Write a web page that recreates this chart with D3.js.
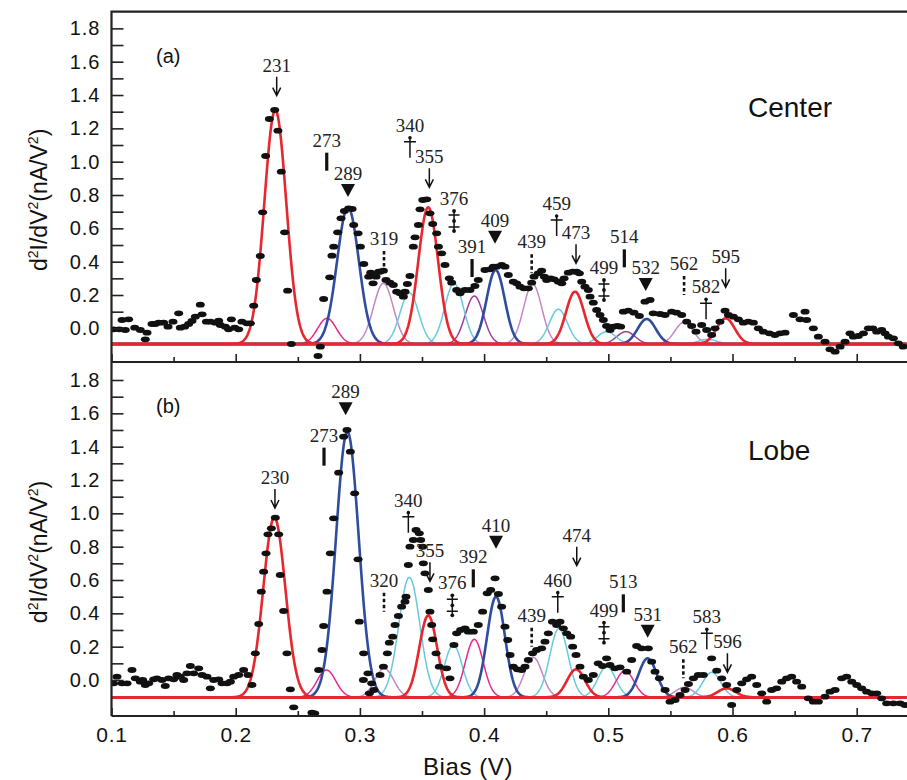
<!DOCTYPE html>
<html>
<head>
<meta charset="utf-8">
<script src="https://cdn.jsdelivr.net/npm/d3@7"></script>
<style>
body { margin: 0; background: #fff; }
</style>
</head>
<body>
<div id="chart-area"></div>
<script>
var svgWidth = 907
var svgHeight = 780

// measured points [bias (V), d2I/dV2 (nA/V^2)]
var centerDots = [
	[0.1017,-0.006],[0.1063,-0.006],[0.1085,0.05],[0.1111,-0.01],[0.1138,0.054],[0.1187,0.004],[0.1232,-0.01],[0.1272,-0.066],
	[0.1286,-0.026],[0.1326,0.026],[0.1353,0.026],[0.138,0.034],[0.142,0.034],[0.1455,0.01],[0.1495,0.04],[0.1541,0.09],
	[0.1554,0.004],[0.1589,0.01],[0.1621,0.026],[0.1648,0.044],[0.1675,0.07],[0.1715,0.142],[0.1729,0.084],[0.1764,0.04],
	[0.1796,0.04],[0.1836,0.034],[0.1863,0.046],[0.1876,0.02],[0.1917,0.01],[0.1943,-0.006],[0.1965,0.054],[0.1992,0.004],
	[0.2024,-0.006],[0.205,0.04],[0.209,0.03],[0.2118,0.03],
	[0.2145,0.136],[0.2166,0.29],[0.2198,0.434],[0.2217,0.696],[0.2241,1.034],[0.2271,1.256],[0.2314,1.31],[0.234,1.186],
	[0.2367,0.94],[0.2394,0.576],[0.2418,0.226],[0.2448,-0.094],[0.2663,-0.166],[0.2681,-0.11],
	[0.2708,0.176],[0.2757,0.306],[0.2775,0.436],[0.2789,0.49],[0.2821,0.576],[0.2848,0.66],[0.2875,0.704],[0.2909,0.72],
	[0.2937,0.716],[0.295,0.62],[0.2985,0.57],[0.3004,0.49],[0.3031,0.386],[0.3071,0.31],[0.3087,0.334],[0.3106,0.27],
	[0.313,0.31],[0.3151,0.34],[0.3162,0.34],[0.3189,0.346],[0.321,0.29],[0.3242,0.274],[0.3269,0.26],[0.3296,0.22],
	[0.3323,0.21],[0.335,0.19],[0.3363,0.22],[0.3382,0.266],[0.3403,0.314],[0.343,0.49],[0.3444,0.546],[0.3471,0.62],
	[0.3484,0.714],[0.3506,0.77],[0.3538,0.774],[0.3564,0.69],[0.3586,0.626],[0.3618,0.57],[0.3632,0.49],[0.3658,0.45],
	[0.3685,0.38],[0.372,0.3],[0.3739,0.274],[0.3779,0.23],[0.3806,0.21],[0.3846,0.23],[0.3886,0.23],[0.3926,0.254],
	[0.3953,0.29],[0.4007,0.35],[0.4047,0.354],[0.4074,0.37],[0.4101,0.37],[0.4141,0.38],[0.4168,0.37],[0.4195,0.32],
	[0.4235,0.28],[0.4262,0.27],[0.4289,0.25],[0.4321,0.24],[0.4356,0.24],[0.4383,0.274],[0.4402,0.31],[0.4436,0.33],
	[0.4463,0.346],[0.4485,0.31],[0.4504,0.29],[0.4536,0.3],[0.4563,0.294],[0.4598,0.28],[0.4625,0.27],[0.4644,0.3],
	[0.4678,0.334],[0.4713,0.34],[0.4745,0.34],[0.4767,0.33],[0.4786,0.28],[0.4812,0.25],[0.4839,0.23],[0.4853,0.19],
	[0.4879,0.154],[0.4906,0.11],[0.4933,0.08],[0.496,0.05],[0.4986,0.014],[0.5014,-0.01],[0.504,0.01],[0.5073,0.014],
	[0.5099,0.01],[0.5121,0.1],[0.5161,0.106],[0.5207,0.094],[0.525,0.074],[0.5295,0.16],[0.5336,0.17],[0.5362,0.09],
	[0.5416,0.086],[0.5456,0.08],[0.551,0.1],[0.555,0.094],[0.5591,0.08],[0.5631,0.04],[0.5671,0.014],[0.5706,-0.02],
	[0.5752,0.02],[0.5792,-0.01],[0.5832,-0.04],[0.5859,0],[0.5899,0.04],[0.594,0.106],[0.5967,0.08],[0.6007,0.07],
	[0.6047,0.054],[0.6087,0.034],[0.6127,0.04],[0.6168,0.034],[0.6208,0],[0.6248,-0.02],[0.6297,-0.03],[0.6342,-0.04],
	[0.6382,-0.03],[0.6423,-0.026],[0.649,0.08],[0.6544,0.054],[0.6584,0.1],[0.6597,0.05],[0.6651,0],[0.6691,-0.05],
	[0.6745,-0.08],[0.6785,-0.126],[0.6826,-0.14],[0.6866,-0.11],[0.6906,-0.08],[0.6946,-0.03],[0.6973,-0.05],[0.7013,-0.046],
	[0.7054,-0.03],[0.7094,0],[0.7129,0],[0.7161,-0.02],[0.7201,-0.01],[0.7228,-0.03],[0.7255,-0.05],[0.7295,-0.06],
	[0.7335,-0.09],[0.7375,-0.11]
]

var lobeDots = [
	[0.1017,-0.02],[0.1044,0.02],[0.1085,-0.02],[0.1125,-0.02],[0.1165,0.06],[0.1192,0.01],[0.1232,-0.01],[0.1251,0],
	[0.1272,-0.03],[0.1299,-0.02],[0.134,0.004],[0.1366,0.01],[0.1407,0],[0.1433,-0.036],[0.146,0.01],[0.15,0.004],
	[0.1527,0.03],[0.1554,0.02],[0.1581,0],[0.1608,0.04],[0.1635,0.084],[0.1662,0.04],[0.1702,0.07],[0.1729,0.03],
	[0.1769,0.02],[0.1796,-0.05],[0.1823,0],[0.1863,0.004],[0.189,-0.02],[0.193,-0.02],[0.1957,-0.01],[0.1984,0.02],
	[0.2024,0.03],[0.2064,0.06],[0.2099,0.03],[0.2131,-0.03],
	[0.2158,0.16],[0.2185,0.336],[0.2206,0.53],[0.2225,0.65],[0.2244,0.76],[0.226,0.874],[0.2287,0.91],[0.2319,0.974],
	[0.2346,0.874],[0.2359,0.63],[0.2386,0.414],[0.2413,0.16],[0.244,-0.056],[0.2467,-0.164],[0.2614,-0.196],[0.2636,-0.2],
	[0.2668,0.06],[0.2695,0.18],[0.2708,0.324],[0.2735,0.53],[0.2762,0.76],[0.2789,0.97],[0.2829,1.244],[0.2869,1.46],
	[0.2896,1.5],[0.2923,1.37],[0.2958,1.12],[0.2985,0.724],[0.2995,0.35],[0.3028,0],[0.303,0.16],[0.3065,0.04],
	[0.3076,-0.08],[0.3095,-0.02],[0.3113,-0.06],[0.3162,0.03],[0.3189,0.08],[0.3221,0.16],[0.3237,0.224],[0.3264,0.26],
	[0.3283,0.33],[0.331,0.384],[0.3336,0.44],[0.3363,0.47],[0.3371,0.5],[0.339,0.69],[0.3403,0.8],[0.343,0.84],
	[0.3452,0.9],[0.3478,0.88],[0.3489,0.84],[0.3505,0.8],[0.3511,0.7],[0.3524,0.64],[0.3551,0.54],[0.3564,0.41],
	[0.3578,0.33],[0.3586,0.244],[0.3613,0.16],[0.3639,0.08],[0.3698,0.07],[0.3725,0.01],[0.3757,0.21],[0.3779,0.28],
	[0.3811,0.3],[0.3846,0.31],[0.3873,0.29],[0.3913,0.29],[0.3953,0.33],[0.3988,0.41],[0.4025,0.52],[0.4053,0.54],
	[0.4088,0.61],[0.4115,0.516],[0.4141,0.44],[0.4168,0.32],[0.419,0.24],[0.4209,0.15],[0.4235,0.08],[0.4268,0.064],
	[0.4302,0.06],[0.4329,0.08],[0.4356,0.12],[0.439,0.16],[0.4423,0.18],[0.4463,0.19],[0.449,0.23],[0.4517,0.28],
	[0.455,0.35],[0.4584,0.33],[0.4611,0.35],[0.4638,0.31],[0.4665,0.28],[0.4697,0.26],[0.4713,0.2],[0.474,0.15],
	[0.4772,0.08],[0.4799,0.02],[0.4839,0],[0.4879,0.03],[0.4919,0.1],[0.4954,0.084],[0.4986,0.13],[0.5013,0.09],
	[0.5054,0.07],[0.5094,0.076],[0.5148,0.05],[0.5188,0.12],[0.5228,0.204],[0.5268,0.19],[0.5322,0.19],[0.5349,0.11],
	[0.5376,0.05],[0.5411,0.01],[0.5457,-0.06],[0.5497,-0.13],[0.5537,-0.12],[0.5577,-0.09],[0.5618,-0.06],[0.5645,-0.024],
	[0.5685,0.01],[0.5725,0.03],[0.5765,0.03],[0.5832,0.13],[0.5873,0.056],[0.5913,0.01],[0.5953,-0.03],[0.5993,-0.15],
	[0.6034,-0.06],[0.6074,-0.02],[0.6114,0.004],[0.6154,0.02],[0.6195,-0.03],[0.6235,-0.08],[0.6275,-0.13],[0.6315,-0.06],
	[0.6355,-0.05],[0.6396,-0.01],[0.6436,0.01],[0.6476,0.02],[0.6516,-0.01],[0.6557,-0.04],[0.661,-0.11],[0.6651,-0.13],
	[0.6691,-0.13],[0.6745,-0.1],[0.6785,-0.07],[0.6826,-0.06],[0.6879,0.01],[0.6919,0.02],[0.696,-0.01],[0.7,-0.03],
	[0.704,-0.05],[0.708,-0.07],[0.7121,-0.08],[0.7161,-0.08],[0.7201,-0.11],[0.7241,-0.14],[0.7295,-0.14],[0.7349,-0.14],
	[0.7389,-0.15]
]

// gaussian fit components
var centerBase = -0.094
var centerPos = [0.2319,0.2735,0.2904,0.3189,0.3398,0.355,0.3758,0.3921,0.4093,0.4391,0.4598,0.4732,0.4987,0.5142,0.5309,0.561,0.58,0.5945]
var centerPeak = [1.31,0.06,0.726,0.27,0.214,0.726,0.27,0.194,0.35,0.266,0.114,0.22,-0.02,-0.02,0.056,0.037,-0.066,0.06]
var centerSigma = [0.0088,0.0075,0.0088,0.008,0.0075,0.008,0.0075,0.0073,0.0073,0.0073,0.0073,0.0073,0.0073,0.0073,0.0073,0.0073,0.0073,0.0073]
var centerColor = ["red","pink","blue","orchid","cyan","red","cyan","purple","blue","orchid","cyan","red","cyan","purple","blue","orchid","cyan","red"]

var lobeBase = -0.104
var lobePos = [0.2311,0.273,0.2899,0.3196,0.3398,0.355,0.3752,0.3921,0.4096,0.4396,0.4603,0.474,0.4987,0.5134,0.5317,0.5612,0.5833,0.5953]
var lobePeak = [0.974,0.06,1.49,0.07,0.616,0.387,0.21,0.244,0.5,0.136,0.31,0.064,0.08,0.056,0.13,-0.044,0.046,-0.05]
var lobeSigma = [0.0089,0.0075,0.0091,0.0075,0.0085,0.0072,0.0072,0.0072,0.0072,0.0072,0.0074,0.0072,0.0072,0.0072,0.0072,0.0072,0.0072,0.0072]
var lobeColor = ["red","pink","blue","orchid","cyan","red","cyan","pink","blue","orchid","cyan","red","cyan","pink","blue","orchid","cyan","red"]

// peak labels: text, symbol, x of label (V), label baseline (nA/V^2)
var markTypes = ["arrow","bar","tri","dash","dagger","arrow","ddagger","bar","tri","dash","dagger","arrow","ddagger","bar","tri","dash","dagger","arrow"]
var centerLabels = ["231","273","289","319","340","355","376","391","409","439","459","473","499","514","532","562","582","595"]
var centerLabelX = [0.233,0.2733,0.2904,0.3194,0.3403,0.3559,0.3758,0.3903,0.4088,0.4383,0.4584,0.474,0.4965,0.5129,0.5301,0.561,0.5787,0.5945]
var centerLabelY = [1.54,1.09,0.89,0.5,1.18,0.99,0.74,0.452,0.61,0.48,0.71,0.534,0.326,0.51,0.326,0.35,0.21,0.39]
var lobeLabels = ["230","273","289","320","340","355","376","392","410","439","460","474","499","513","531","562","583","596"]
var lobeLabelX = [0.2316,0.2711,0.2885,0.3194,0.339,0.3564,0.3744,0.3913,0.4096,0.4383,0.4593,0.4746,0.4965,0.5121,0.5317,0.5604,0.5793,0.5959]
var lobeLabelY = [1.176,1.43,1.69,0.56,1.04,0.736,0.544,0.7,0.89,0.35,0.56,0.83,0.38,0.55,0.356,0.16,0.34,0.19]

var xTicks = [0.1,0.2,0.3,0.4,0.5,0.6,0.7]
var xMinor = [0.15,0.25,0.35,0.45,0.55,0.65]
var yTicks = [0,0.2,0.4,0.6,0.8,1.0,1.2,1.4,1.6,1.8]
var yMinor = [0.1,0.3,0.5,0.7,0.9,1.1,1.3,1.5,1.7]

var sans = "'Liberation Sans', Arial, Helvetica, sans-serif"
var serif = "'Liberation Serif', 'Times New Roman', serif"

var colr = d3.scaleOrdinal()
			.domain(["red","blue","pink","orchid","cyan","purple"])
			.range(["#e8262d","#2e4d9d","#e8288b","#c486c5","#67c9dd","#9d3f98"])

var svg = d3.select("#chart-area")
			.append("svg")
			.attr("width", svgWidth)
			.attr("height", svgHeight)

var x = d3.scaleLinear()
			.domain([0.1, 0.74])
			.range([111.5, 906.4])

var panels = [
	{ y: d3.scaleLinear().domain([-0.202, 1.9]).range([362, 11.7]), top: 11.7, bottom: 362,
	  dots: centerDots, base: centerBase, pos: centerPos, peak: centerPeak, sigma: centerSigma, color: centerColor,
	  labels: centerLabels, lx: centerLabelX, ly: centerLabelY, tag: "(a)", name: "Center", nameY: 117, tagY: 63, clip: "clipA" },
	{ y: d3.scaleLinear().domain([-0.216, 1.908]).range([716, 362]), top: 362, bottom: 716,
	  dots: lobeDots, base: lobeBase, pos: lobePos, peak: lobePeak, sigma: lobeSigma, color: lobeColor,
	  labels: lobeLabels, lx: lobeLabelX, ly: lobeLabelY, tag: "(b)", name: "Lobe", nameY: 460, tagY: 413, clip: "clipB" }
]

var grid = d3.range(0.1, 0.7401, 0.0005)

function drawMark(g, type, px, py) {
	var ink = "#111"
	if (type == "arrow") {
		var a = py + 5
		g.append("path")
			.attr("d", "M" + px + "," + a + "V" + (a + 19) + "M" + (px - 4) + "," + (a + 11) + "L" + px + "," + (a + 19) + "L" + (px + 4) + "," + (a + 11))
			.attr("fill", "none").attr("stroke", ink).attr("stroke-width", 1.5)
	} else if (type == "tri") {
		var t = py + 4
		g.append("path")
			.attr("d", "M" + (px - 7) + "," + t + "H" + (px + 7) + "L" + px + "," + (t + 13) + "Z")
			.attr("fill", ink)
	} else if (type == "bar") {
		g.append("rect").attr("x", px - 1.6).attr("y", py + 6).attr("width", 3.2).attr("height", 18).attr("fill", ink)
	} else if (type == "dash") {
		g.append("line").attr("x1", px).attr("x2", px).attr("y1", py + 6).attr("y2", py + 25)
			.attr("stroke", ink).attr("stroke-width", 2.6).attr("stroke-dasharray", "3.5,2.5")
	} else if (type == "dagger") {
		var d0 = py + 5
		g.append("path")
			.attr("d", "M" + px + "," + d0 + "V" + (d0 + 21) + "M" + (px - 6) + "," + (d0 + 5) + "H" + (px + 6))
			.attr("stroke", ink).attr("stroke-width", 1.5)
		g.append("circle").attr("cx", px).attr("cy", d0 + 1).attr("r", 1.8).attr("fill", ink)
	} else if (type == "ddagger") {
		var e = py + 5
		g.append("path")
			.attr("d", "M" + px + "," + e + "V" + (e + 22) + "M" + (px - 5.5) + "," + (e + 5) + "H" + (px + 5.5) + "M" + (px - 5.5) + "," + (e + 17) + "H" + (px + 5.5))
			.attr("stroke", ink).attr("stroke-width", 1.5)
		g.selectAll(null).data([1, 11, 21]).enter().append("circle")
			.attr("cx", px).attr("cy", function(d){ return e + d }).attr("r", 1.9).attr("fill", ink)
	}
}

panels.forEach(function(p, pi){
	var y = p.y
	var g = svg.append("g")

	svg.append("clipPath").attr("id", p.clip)
		.append("rect").attr("x", 111.5).attr("y", p.top).attr("width", svgWidth - 111.5).attr("height", p.bottom - p.top)

	// fitted components, thin ones first so red and blue sit on top
	var comps = p.pos.map(function(c, i){
		return { c: c, h: p.peak[i], s: p.sigma[i], col: p.color[i] }
	})
	var rank = { orchid: 0, purple: 0, pink: 1, cyan: 1, blue: 2, red: 3 }
	comps.sort(function(a, b){ return rank[a.col] - rank[b.col] })

	var line = d3.line()
		.x(function(d){ return x(d[0]) })
		.y(function(d){ return y(d[1]) })

	g.append("g").attr("clip-path", "url(#" + p.clip + ")")
		.selectAll("path").data(comps).enter()
		.append("path")
		.attr("d", function(k){
			return line(grid.map(function(v){
				return [v, p.base + (k.h - p.base) * Math.exp(-Math.pow(v - k.c, 2) / (2 * k.s * k.s))]
			}))
		})
		.attr("fill", "none")
		.attr("stroke", function(k){ return colr(k.col) })
		.attr("stroke-width", function(k){ return (k.col == "red" || k.col == "blue") ? 2.6 : 1.5 })

	// measured points
	g.append("g").attr("clip-path", "url(#" + p.clip + ")")
		.selectAll("ellipse").data(p.dots).enter()
		.append("ellipse")
		.attr("cx", function(d){ return x(d[0]) })
		.attr("cy", function(d){ return y(d[1]) })
		.attr("rx", 4.5)
		.attr("ry", 2.9)
		.attr("fill", "#111")

	// y ticks
	g.append("g").attr("transform", "translate(111.5,0)")
		.call(d3.axisLeft(y).tickValues(yTicks.concat(yMinor)).tickSize(-12).tickFormat(""))
		.call(function(a){ a.select(".domain").remove() })
		.selectAll("line").attr("stroke", "#222").attr("stroke-width", 1.6)

	g.append("g").attr("transform", "translate(111.5,0)")
		.call(d3.axisLeft(y).tickValues(yTicks).tickSize(0).tickPadding(11).tickFormat(d3.format(".1f")))
		.call(function(a){ a.select(".domain").remove() })
		.selectAll("text").attr("font-family", sans).attr("font-size", 20).attr("letter-spacing", 1).attr("fill", "#111")

	// x ticks on the bottom edge, pointing in
	g.append("g").attr("transform", "translate(0," + p.bottom + ")")
		.call(d3.axisBottom(x).tickValues(xTicks).tickSize(-8).tickFormat(""))
		.call(function(a){ a.select(".domain").remove() })
		.selectAll("line").attr("stroke", "#222").attr("stroke-width", 1.6)
	g.append("g").attr("transform", "translate(0," + p.bottom + ")")
		.call(d3.axisBottom(x).tickValues(xMinor).tickSize(-5).tickFormat(""))
		.call(function(a){ a.select(".domain").remove() })
		.selectAll("line").attr("stroke", "#222").attr("stroke-width", 1.6)

	if (pi == 1) {
		g.append("g").attr("transform", "translate(0," + p.bottom + ")")
			.call(d3.axisBottom(x).tickValues(xTicks).tickSize(0).tickPadding(11).tickFormat(d3.format(".1f")))
			.call(function(a){ a.select(".domain").remove() })
			.selectAll("text").attr("font-family", sans).attr("font-size", 21).attr("letter-spacing", 0.8).attr("fill", "#111")
	}

	// frame
	var frame = "M111.5," + p.bottom + "V" + p.top
	if (pi == 0) frame += "H" + svgWidth
	frame += "M111.5," + p.bottom + "H" + svgWidth
	g.append("path").attr("d", frame).attr("fill", "none").attr("stroke", "#222").attr("stroke-width", 2.2)

	// y title
	var mid = (p.top + p.bottom) / 2 + 13
	var yt = g.append("text")
		.attr("transform", "translate(47," + mid + ") rotate(-90)")
		.attr("text-anchor", "middle")
		.attr("font-family", sans)
		.attr("font-size", 23)
		.attr("fill", "#111")
	yt.append("tspan").text("d")
	yt.append("tspan").attr("dy", -9).attr("font-size", 14).text("2")
	yt.append("tspan").attr("dy", 9).text("I/dV")
	yt.append("tspan").attr("dy", -9).attr("font-size", 14).text("2")
	yt.append("tspan").attr("dy", 9).text("(nA/V")
	yt.append("tspan").attr("dy", -9).attr("font-size", 14).text("2")
	yt.append("tspan").attr("dy", 9).text(")")

	// panel tag and name
	g.append("text").attr("x", 156).attr("y", p.tagY)
		.attr("font-family", sans).attr("font-size", 20).attr("fill", "#111").text(p.tag)
	g.append("text").attr("x", 748).attr("y", p.nameY)
		.attr("font-family", sans).attr("font-size", 28).attr("fill", "#111").text(p.name)

	// peak labels with their symbols
	p.labels.forEach(function(t, i){
		var px = x(p.lx[i]), py = y(p.ly[i])
		g.append("text").attr("x", px).attr("y", py)
			.attr("text-anchor", "middle")
			.attr("font-family", serif).attr("font-size", 19).attr("fill", "#222")
			.text(t)
		drawMark(g, markTypes[i], px, py)
	})
})

svg.append("text")
	.attr("x", 468).attr("y", 775)
	.attr("text-anchor", "middle")
	.attr("font-family", sans).attr("font-size", 24).attr("letter-spacing", 0.6).attr("fill", "#111")
	.text("Bias (V)")
</script>
</body>
</html>
